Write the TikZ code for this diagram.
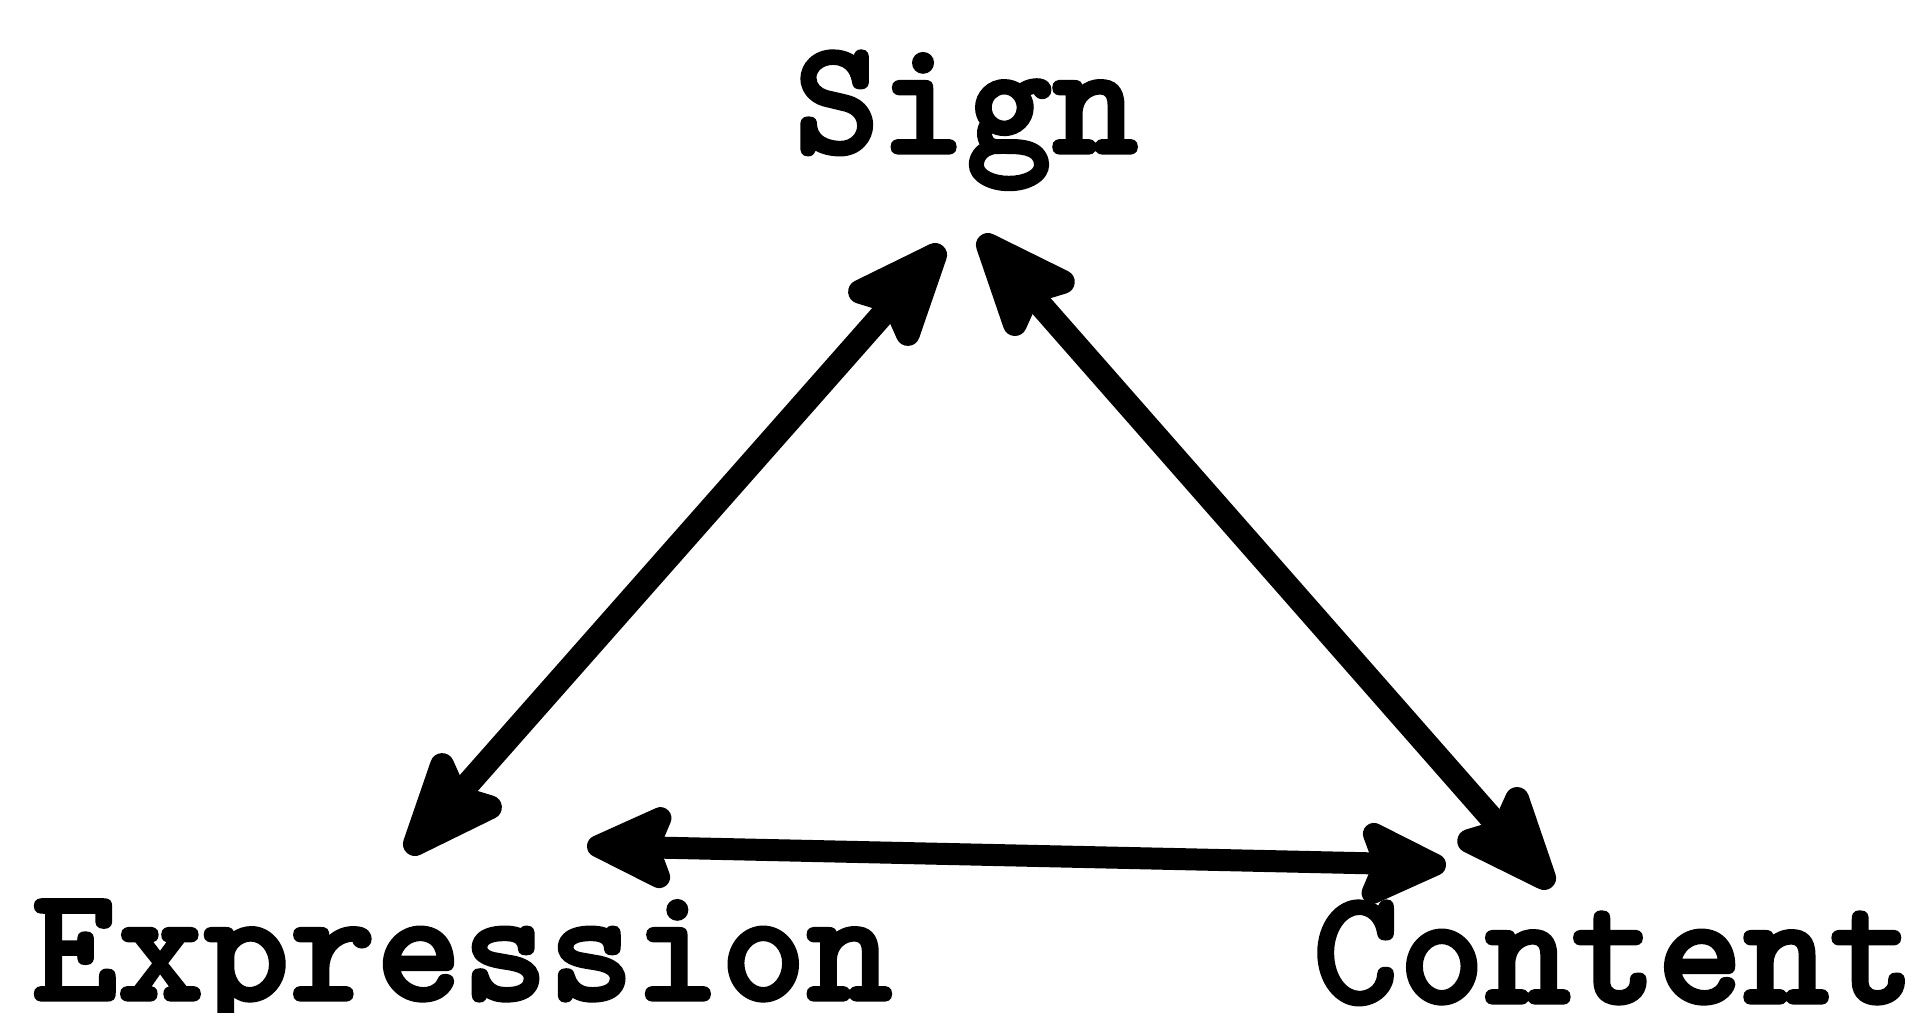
\documentclass[tikz,border=0pt]{standalone}
\usepackage{fontspec}
\newfontfamily\twfont{lmmonolt10-bold.otf}[FakeBold=2]
\usetikzlibrary{arrows.meta}
\begin{document}
\begin{tikzpicture}[x=1pt,y=1pt,
  lbl/.style={inner sep=0pt,anchor=base,font=\twfont\fontsize{164}{164}\selectfont},
  bighead/.tip={Stealth[length=130pt,width=104pt,inset=22pt,round]},
  smallhead/.tip={Stealth[length=106pt,width=98pt,inset=18pt,round]},
  link/.style={line width=24pt,bighead-bighead},
  hlink/.style={line width=22pt,smallhead-smallhead}]
\useasboundingbox (0,-1012) rectangle (1919,0);
\fill[white] (0,-1012) rectangle (1919,0);
\node[lbl] (sign) at (966,-153) {Sign};
\node[lbl] (expr) at (462,-1000) {Expression};
\node[lbl] (cont) at (1614,-1003) {Content};
\coordinate (s1) at (943,-246);
\coordinate (s2) at (980,-236);
\coordinate (e1) at (407,-853);
\coordinate (e2) at (587,-846);
\coordinate (c1) at (1446,-865);
\coordinate (c2) at (1552,-887);
\draw[link] (e1) -- (s1);
\draw[link] (s2) -- (c2);
\draw[hlink] (e2) -- (c1);
\end{tikzpicture}
\end{document}
